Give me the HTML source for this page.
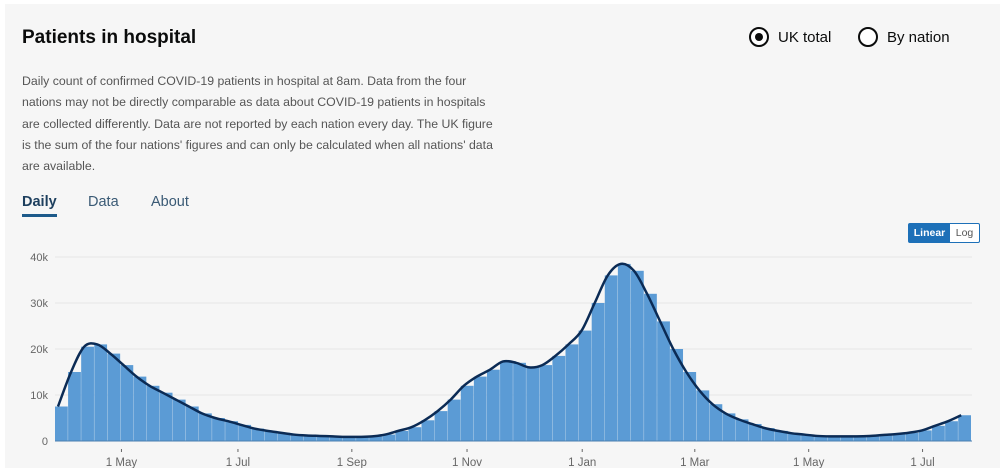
<!DOCTYPE html>
<html><head><meta charset="utf-8"><style>
body{margin:0;background:#fff;font-family:"Liberation Sans",sans-serif;}
#panel{position:absolute;left:5px;top:4px;width:995px;height:464px;background:#f6f6f6;}
.abs{position:absolute;white-space:nowrap;}
h1{margin:0;font-size:19px;font-weight:bold;color:#0b0c0c;}
.desc{font-size:12.3px;line-height:21.3px;color:#555;}
.tab{font-size:14.5px;color:#3a5a75;}
.radio{width:20px;height:20px;border:2px solid #0b0c0c;border-radius:50%;box-sizing:border-box;background:#fff;}
.dot{position:absolute;left:4px;top:4px;width:8px;height:8px;border-radius:50%;background:#0b0c0c;}
.rl{font-size:15px;color:#0b0c0c;}
</style></head><body>
<div id="panel"></div>
<h1 class="abs" style="left:22px;top:27px">Patients in hospital</h1>
<div class="abs radio" style="left:749px;top:27px"><div class="dot"></div></div>
<div class="abs rl" style="left:778px;top:29px">UK total</div>
<div class="abs radio" style="left:858px;top:27px"></div>
<div class="abs rl" style="left:887px;top:29px">By nation</div>
<div class="abs desc" style="left:22px;top:71px">Daily count of confirmed COVID-19 patients in hospital at 8am. Data from the four<br>nations may not be directly comparable as data about COVID-19 patients in hospitals<br>are collected differently. Data are not reported by each nation every day. The UK figure<br>is the sum of the four nations' figures and can only be calculated when all nations' data<br>are available.</div>
<div class="abs tab" style="left:22px;top:194px;font-weight:bold;color:#1d3f5e">Daily</div>
<div class="abs" style="left:22px;top:214px;width:35px;height:3px;background:#1d5a8a"></div>
<div class="abs tab" style="left:88px;top:194px">Data</div>
<div class="abs tab" style="left:151px;top:194px">About</div>
<div class="abs" style="left:908px;top:223px;width:70px;height:18px;border:1px solid #1d70b8;border-radius:2px;background:#fff;font-size:10.5px">
<span class="abs" style="left:0;top:0;width:41px;height:18px;background:#1d70b8;color:#fff;font-weight:bold;text-align:center;line-height:18px">Linear</span>
<span class="abs" style="left:41px;top:0;width:29px;height:18px;color:#555;text-align:center;line-height:18px">Log</span>
</div>
<svg class="abs" style="left:0;top:0" width="1000" height="468" id="chart"></svg>
<script>
const startLabel = "27 Mar 2020 (weekly)";
const values = [7.5,15,20.5,21,19,16.5,14,12,10.5,9,7.5,6,5,4.3,3.5,2.7,2.2,1.8,1.4,1.2,1.1,1.0,0.9,0.9,1.0,1.4,2.2,3.0,4.5,6.5,9,12,14,15.5,17.3,17,16,16.5,18.5,21,24,30,36,38.5,37,32,26,20,15,11,8,6,4.7,3.7,2.8,2.2,1.7,1.4,1.1,1.0,1.0,1.0,1.1,1.3,1.5,1.8,2.3,3.3,4.3,5.6];
const yTicks = [0,10,20,30,40];
const yTickLabels = ["0","10k","20k","30k","40k"];
const xTickWeeks = [5,13.9,22.6,31.4,40.2,48.8,57.5,66.2];
const xTickLabels = ["1 May","1 Jul","1 Sep","1 Nov","1 Jan","1 Mar","1 May","1 Jul"];
const NS="http://www.w3.org/2000/svg", svg=document.getElementById('chart');
const X0=55, W=13.09, Y0=441, YS=4.6;
const x=i=>X0+i*W, y=v=>Y0-v*YS;
function mk(t,a){const e=document.createElementNS(NS,t);for(const k in a)e.setAttribute(k,a[k]);svg.appendChild(e);return e;}
yTicks.forEach((t,i)=>{
 const g=mk('line',{x1:55,x2:972,y1:y(t),y2:y(t),stroke:'#e6e6e6','stroke-width':1});
 
 
 const l=mk('text',{x:48,y:y(t)+4,'text-anchor':'end','font-size':11,fill:'#666','font-family':'Liberation Sans'});
 l.textContent=yTickLabels[i];
 
 
});
values.forEach((v,i)=>{
 const b=mk('rect',{x:x(i),y:y(v),width:W-0.3,height:v*YS,fill:'#5b9bd5'});
 
 
});
let pts=values.map((v,i)=>[x(i)+3,y(v)]);
let d='M'+pts[0][0]+','+pts[0][1];
for(let i=1;i<pts.length;i++){const p0=pts[Math.max(0,i-2)],p1=pts[i-1],p2=pts[i],p3=pts[Math.min(pts.length-1,i+1)];
 d+=` C${p1[0]+(p2[0]-p0[0])/6},${p1[1]+(p2[1]-p0[1])/6} ${p2[0]-(p3[0]-p1[0])/6},${p2[1]-(p3[1]-p1[1])/6} ${p2[0]},${p2[1]}`;}
const ln=mk('path',{d:d,fill:'none',stroke:'#0b2b55','stroke-width':2.5});


const ax=mk('line',{x1:55,x2:972,y1:Y0,y2:Y0,stroke:'#4a7fb0','stroke-width':1});


xTickWeeks.forEach((w,i)=>{
 const tx=X0+w*W+1;
 const t=mk('line',{x1:tx,x2:tx,y1:449,y2:452,stroke:'#666'});
 
 
 const l=mk('text',{x:tx,y:466,'text-anchor':'middle','font-size':11.5,fill:'#666','font-family':'Liberation Sans'});
 l.textContent=xTickLabels[i];
 
 
});
</script>
</body></html>
